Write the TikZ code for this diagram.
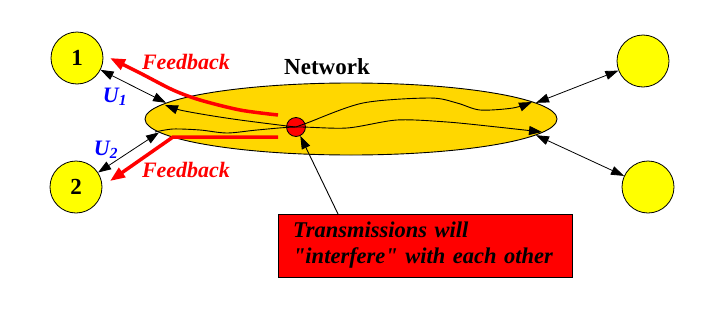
\documentclass[tikz,border=0pt]{standalone}
\usepackage{fontspec}
\setmainfont{Liberation Serif}
\usepackage{tikz}
\usetikzlibrary{shapes.geometric, arrows.meta, positioning}
\definecolor{HostYellow}{HTML}{FFFF00}
\definecolor{NetGold}   {HTML}{FFD700}
\definecolor{NoteRed}   {HTML}{FF0000}
\definecolor{UBlue}     {HTML}{0000FF}
\tikzset{
  host/.style={circle, draw, fill=HostYellow, minimum size=52pt, inner sep=0pt,
               line width=0.8pt, font=\fontsize{23}{26}\selectfont\bfseries},
  net/.style={ellipse, draw, fill=NetGold, minimum width=412pt, minimum height=72pt,
              line width=0.9pt},
  link/.style={{Triangle[length=13pt,width=9pt]}-{Triangle[length=13pt,width=9pt]}, line width=0.8pt},
  route/.style={-{Triangle[length=13pt,width=9pt]}, line width=0.9pt},
  fb/.style={-{Triangle[length=15pt,width=11pt]}, color=NoteRed, line width=3.5pt},
  lbl/.style={font=\fontsize{22}{26}\selectfont\bfseries\itshape},
  note/.style={draw, fill=NoteRed, line width=0.9pt, text width=264pt, align=left,
               inner xsep=15pt, minimum height=63pt,
               font=\fontsize{22.5}{26}\selectfont\bfseries\itshape}
}

\begin{document}
\begin{tikzpicture}[x=1pt, y=-1pt]
  \useasboundingbox (0,0) rectangle (722,308);
  % hosts
  \node[host] (h1) at (77,58)  {1};
  \node[host] (h2) at (76,187) {2};
  \node[host] (h3) at (643,61) {};
  \node[host] (h4) at (648,187) {};
  % the network
  \node[net] (net) at (351,119) {};
  \node[font=\fontsize{23}{26}\selectfont\bfseries] (netlbl) at (327,67) {Network};
  % feedback paths
  \coordinate (fb1) at (278,115);
  \coordinate (fb2) at (278,137);
  \draw[fb] plot[smooth] coordinates {(fb1) (240,110) (200,100) (173,90) (140,73) (110,58)};
  \draw[fb] (fb2) -- (173,137) -- (110,181);
  \node[circle, draw, fill=NoteRed, minimum size=19pt, inner sep=0pt, line width=0.8pt] (rd) at (296,127) {};
  % routes through the network
  \draw[route] plot[smooth] coordinates {(rd.center) (287,126) (240,120) (207,115) (180,110) (165,105)};
  \draw[route] plot[smooth] coordinates {(rd.center) (307,123) (363,103) (430,98) (457,103) (480,110) (513,108) (532,102)};
  \draw[route] plot[smooth] coordinates {(155,132) (173,129) (200,130) (227,133) (257,130) (rd.center) (347,128) (397,120) (447,122) (497,127) (542,132)};
  % access links
  \draw[link] (h1) -- (net.175);
  \draw[link] (h2) -- (net.184);
  \draw[link] (h3) -- (net.5);
  \draw[link] (h4) -- (net.-5);
  % labels
  \node[lbl, text=NoteRed] (fbup) at (186,62)  {Feedback};
  \node[lbl, text=NoteRed] (fblo) at (186,170) {Feedback};
  \node[lbl, text=UBlue]   (u1)   at (115,97)  {U\textsubscript{1}};
  \node[lbl, text=UBlue]   (u2)   at (106,150) {U\textsubscript{2}};
  % note
  \node[note] (note) at (425,245.5) {Transmissions will\\\textquotedbl interfere\textquotedbl{} with each other};
  \coordinate (tail) at (338,214);
  \draw[route] (tail) -- (rd);
\end{tikzpicture}
\end{document}
